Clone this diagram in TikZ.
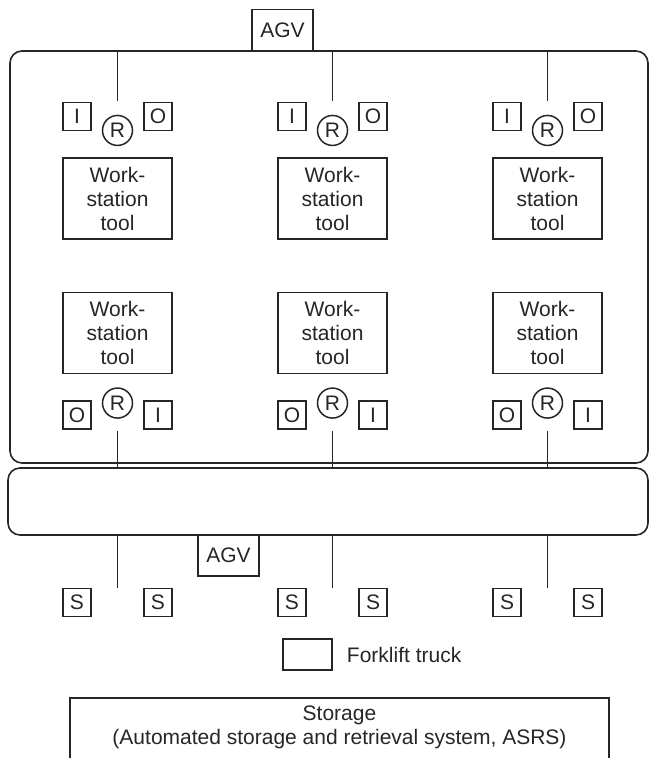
\documentclass[tikz,border=0pt]{standalone}
\usepackage{fontspec}
\setmainfont{Liberation Sans}
\usetikzlibrary{positioning}
\definecolor{fmsLine}{RGB}{38,38,38}

\begin{document}
\begin{tikzpicture}[x=1pt,y=-1pt,
    every node/.style={font=\fontsize{21}{24}\selectfont,text=fmsLine},
    hall/.style={draw=fmsLine,line width=1.6pt,rounded corners=12pt,inner sep=0pt},
    tool/.style={draw=fmsLine,line width=1.6pt,fill=white,minimum width=109pt,minimum height=81pt,align=center,inner sep=0pt},
    port/.style={draw=fmsLine,line width=1.5pt,fill=white,minimum size=28pt,inner sep=0pt},
    robot/.style={circle,draw=fmsLine,line width=1.5pt,minimum size=30pt,inner sep=0pt},
    agv/.style={draw=fmsLine,line width=1.6pt,fill=white,minimum width=61pt,minimum height=41pt,inner sep=0pt},
    conn/.style={fmsLine,line width=1.6pt}]
  \useasboundingbox (0,0) rectangle (650,758);
  \clip (0,0) rectangle (650,758);
  % shop floor and transport track
  \node[hall,minimum width=638pt,minimum height=412pt] (cell) at (329,257) {};
  \node[hall,minimum width=640pt,minimum height=67pt] (track) at (328,501.5) {};
  \node[agv] (agvtop) at (282.5,30) {AGV};
  \node[agv] (agvbot) at (228.5,555.5) {AGV};
  \foreach \i in {1,2,3} {
    \pgfmathsetmacro\cx{117.5+215*(\i-1)}
    % upper workstation
    \node[tool] (wst\i) at (\cx,198.5) {Work-\\station\\tool};
    \node[robot,above=11pt of wst\i] (rt\i) {R};
    \node[port,above right=26pt and 0pt of wst\i.north west] (int\i) {I};
    \node[port,above left=26pt and 0pt of wst\i.north east] (outt\i) {O};
    \coordinate[above=14pt of rt\i.north] (rtop\i);
    \draw[conn] (rtop\i) -- (rtop\i |- cell.north);
    % lower workstation
    \node[tool] (wsb\i) at (\cx,333) {Work-\\station\\tool};
    \node[robot,below=13pt of wsb\i] (rb\i) {R};
    \node[port,below right=26pt and 0pt of wsb\i.south west] (outb\i) {O};
    \node[port,below left=26pt and 0pt of wsb\i.south east] (inb\i) {I};
    \coordinate[below=12pt of rb\i.south] (rbot\i);
    \draw[conn] (rbot\i) -- (rbot\i |- track.north);
    % buffer stores
    \node[port] (sl\i) at (\cx-40.5,602.5) {S};
    \node[port] (sr\i) at (\cx+40.5,602.5) {S};
    \draw[conn] (wsb\i |- track.south) -- (wsb\i |- sl\i.north);
  }
  \node[draw=fmsLine,line width=1.5pt,minimum width=49pt,minimum height=31pt] (fork) at (307.5,654.5) {};
  \node[right=14pt of fork,inner sep=0pt] (forklabel) {Forklift truck};
  \node[draw=fmsLine,line width=1.6pt,anchor=north,minimum width=539pt,minimum height=100pt] (asrs) at (339.5,697) {};
  \node[below=5pt of asrs.north,align=center] (asrslabel) {Storage\\(Automated storage and retrieval system, ASRS)};
\end{tikzpicture}
\end{document}
